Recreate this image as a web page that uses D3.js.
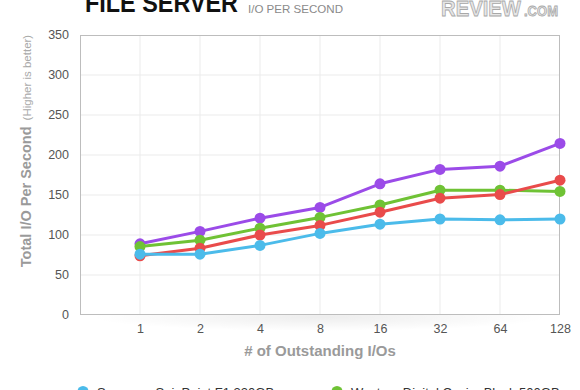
<!DOCTYPE html>
<html><head><meta charset="utf-8">
<script src="https://cdn.jsdelivr.net/npm/d3@7"></script>
<style>body{margin:0;background:#fff;overflow:hidden}svg{display:block;font-family:"Liberation Sans",Arial,Helvetica,sans-serif}</style>
</head><body><svg id="c" width="580" height="390"></svg>
<script>
const categories = ["1","2","4","8","16","32","64","128"];
const yTicks = [0,50,100,150,200,250,300,350];
const purpleValues = [89,104.5,121,134.5,164,182,186,214.5];
const greenValues = [85.5,93.5,108.5,122,137.5,156,156,154.5];
const redValues = [74,83.5,100,112,128.5,146,150.5,168.5];
const blueValues = [76,76,87,102,113.5,120,119,120];
const seriesColors = ["#9b4be8","#6fc235","#e94b4b","#4bbbea"];
const legendNames = ["Samsung SpinPoint F1 320GB","Western Digital Caviar Black 500GB"];
const legendColors = ["#4bbbea","#6fc235"];

const svg = d3.select("#c");
const L=80,R=560,T=35,B=315;
const x = d3.scaleLinear().domain([0,categories.length]).range([L,R]);
const y = d3.scaleLinear().domain([0,350]).range([B,T]);

// shadow under plot
const defs = svg.append("defs");
const rg = defs.append("radialGradient").attr("id","sh");
rg.append("stop").attr("offset","0%").attr("stop-color","#000").attr("stop-opacity",0.07);
rg.append("stop").attr("offset","100%").attr("stop-color","#000").attr("stop-opacity",0);
svg.append("ellipse").attr("cx",(L+R)/2).attr("cy",B+2).attr("rx",230).attr("ry",14).attr("fill","url(#sh)");
svg.append("rect").attr("x",L).attr("y",T).attr("width",R-L).attr("height",B-T).attr("fill","#fff");

// grid
svg.append("g").selectAll("line").data(yTicks.slice(1,-1)).join("line")
  .attr("x1",L).attr("x2",R).attr("y1",d=>y(d)).attr("y2",d=>y(d)).attr("stroke","#ebebeb");
svg.append("g").selectAll("line").data(categories.slice(0,-1)).join("line")
  .attr("y1",T).attr("y2",B).attr("x1",(d,i)=>x(i+1)).attr("x2",(d,i)=>x(i+1)).attr("stroke","#ebebeb");
svg.append("rect").attr("x",L+0.5).attr("y",T+0.5).attr("width",R-L-1).attr("height",B-T-1)
  .attr("fill","none").attr("stroke","#bdbdbd");

// axes labels
const yAxis = svg.append("g").attr("transform",`translate(${L},0)`)
  .call(d3.axisLeft(y).tickValues(yTicks).tickSize(0).tickPadding(11));
yAxis.select(".domain").remove();
yAxis.selectAll("text").attr("font-size",12.5).attr("fill","#555").attr("font-family","Liberation Sans, Arial, sans-serif").attr("dy","0.3em");
const xs = d3.scalePoint().domain(categories).range([x(1),x(categories.length)]);
const xAxis = svg.append("g").attr("transform",`translate(0,${B})`)
  .call(d3.axisBottom(xs).tickSize(0).tickPadding(9));
xAxis.select(".domain").remove();
xAxis.selectAll("text").attr("font-size",12.5).attr("fill","#555").attr("font-family","Liberation Sans, Arial, sans-serif");

// axis titles
svg.append("text").attr("x",320).attr("y",356).attr("text-anchor","middle")
  .attr("font-size",15).attr("font-weight","bold").attr("fill","#9a9a9a").text("# of Outstanding I/Os");
const yt = svg.append("text").attr("transform","translate(31,151) rotate(-90)").attr("text-anchor","middle").attr("fill","#9a9a9a");
yt.append("tspan").attr("font-size",14.5).attr("font-weight","bold").text("Total I/O Per Second");
yt.append("tspan").attr("font-size",11.5).attr("dx",6).attr("fill","#aaa").text("(Higher is better)");

// series
const allValues = [purpleValues,greenValues,redValues,blueValues];
const line = d3.line().x((d,i)=>x(i+1)).y(d=>y(d));
allValues.forEach((vals,k)=>{
  const g = svg.append("g");
  g.append("path").datum(vals).attr("d",line).attr("fill","none").attr("stroke",seriesColors[k]).attr("stroke-width",3).attr("stroke-linejoin","round");
  g.selectAll("circle").data(vals).join("circle").attr("cx",(d,i)=>x(i+1)).attr("cy",d=>y(d)).attr("r",5.5).attr("fill",seriesColors[k]);
});

// title
svg.append("text").attr("x",85).attr("y",12).attr("font-size",25).attr("font-weight","bold").attr("fill","#111")
  .attr("textLength",153).attr("lengthAdjust","spacingAndGlyphs").text("FILE SERVER");
svg.append("text").attr("x",248).attr("y",13).attr("font-size",11.5).attr("fill","#8a8a8a")
  .attr("textLength",95).attr("lengthAdjust","spacingAndGlyphs").text("I/O PER SECOND");
// logo
const logo = svg.append("text").attr("x",441).attr("y",16).attr("font-weight","bold").attr("fill","#e6e6e6").attr("stroke","#a8a8a8").attr("stroke-width",0.8);
logo.append("tspan").attr("font-size",22).attr("textLength",80).attr("lengthAdjust","spacingAndGlyphs").text("REVIEW");
logo.append("tspan").attr("font-size",14).attr("dx",3).attr("textLength",34).attr("lengthAdjust","spacingAndGlyphs").text(".COM");

// legend
const lg = svg.append("g").selectAll("g").data(legendNames).join("g").attr("transform",(d,i)=>`translate(${83+i*254},391.5)`);
lg.append("circle").attr("r",5.5).attr("fill",(d,i)=>legendColors[i]);
lg.append("text").attr("x",14).attr("y",5).attr("font-size",13).attr("fill","#333").text(d=>d);
</script></body></html>
